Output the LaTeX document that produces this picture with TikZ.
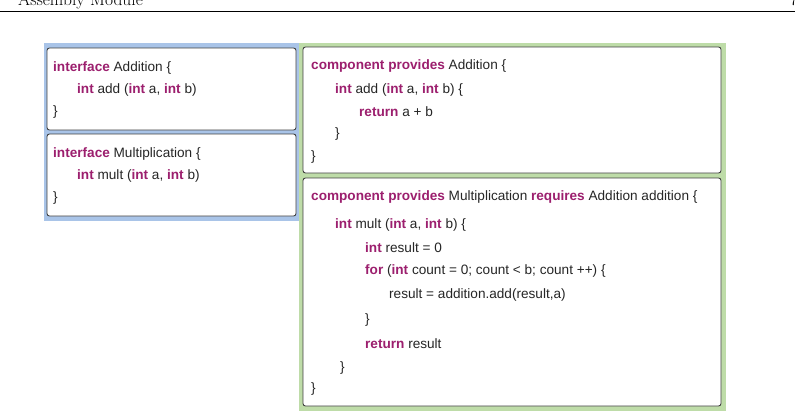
\documentclass[tikz,border=0pt]{standalone}
\usepackage{fontspec}
\newfontfamily\codefont{Liberation Sans}
\begin{document}
\begin{tikzpicture}[x=1pt,y=-1pt,
  card/.style={draw=black!75,fill=white,rounded corners=2.5pt,line width=0.9pt},
  code/.style={anchor=west,inner sep=0pt,font=\codefont\fontsize{13.6}{15}\selectfont,text=black!85}]
\definecolor{kw}{HTML}{9C1F6E}
\definecolor{bluep}{HTML}{A9C4E8}
\definecolor{greenp}{HTML}{BEDCA8}
\newcommand{\kw}[1]{\textcolor{kw}{\bfseries #1}}
\useasboundingbox (0,0) rectangle (795,416);
\clip (0,0) rectangle (795,416);
\node[anchor=base west,inner sep=0pt,font=\fontsize{17.5}{19}\selectfont] (hd) at (18,5) {Assembly Module};
\node[anchor=base east,inner sep=0pt,font=\fontsize{17.5}{19}\selectfont] (pg) at (798,5) {7};
\draw[line width=0.8pt] (0,11) -- (795,11);
\fill[bluep] (44,43) rectangle (300,221);
\fill[greenp] (299,43) rectangle (726,411);
\draw[card] (47,48) rectangle (296,130);
\draw[card] (47,134) rectangle (296,216);
\draw[card] (303,47) rectangle (721,173);
\draw[card] (303,178) rectangle (721,406);
% interfaces
\node[code] (a1) at (53,68) {\kw{interface} Addition \{};
\node[code] (a2) at (77,90) {\kw{int} add (\kw{int} a, \kw{int} b)};
\node[code] (a3) at (53,112) {\}};
\node[code] (m1) at (53,154) {\kw{interface} Multiplication \{};
\node[code] (m2) at (77,176) {\kw{int} mult (\kw{int} a, \kw{int} b)};
\node[code] (m3) at (53,198) {\}};
% component addition
\node[code] (c1) at (311,66) {\kw{component provides} Addition \{};
\node[code] (c2) at (335,90) {\kw{int} add (\kw{int} a, \kw{int} b) \{};
\node[code] (c3) at (359,112) {\kw{return} a + b};
\node[code] (c4) at (335,134) {\}};
\node[code] (c5) at (311,157) {\}};
% component multiplication
\node[code] (d1) at (311,197) {\kw{component provides} Multiplication \kw{requires} Addition addition \{};
\node[code] (d2) at (335,225) {\kw{int} mult (\kw{int} a, \kw{int} b) \{};
\node[code] (d3) at (365,248) {\kw{int} result = 0};
\node[code] (d4) at (365,271) {\kw{for} (\kw{int} count = 0; count < b; count ++) \{};
\node[code] (d5) at (389,295) {result = addition.add(result,a)};
\node[code] (d6) at (365,320) {\}};
\node[code] (d7) at (365,344) {\kw{return} result};
\node[code] (d8) at (340,368) {\}};
\node[code] (d9) at (311,389) {\}};
\end{tikzpicture}
\end{document}
